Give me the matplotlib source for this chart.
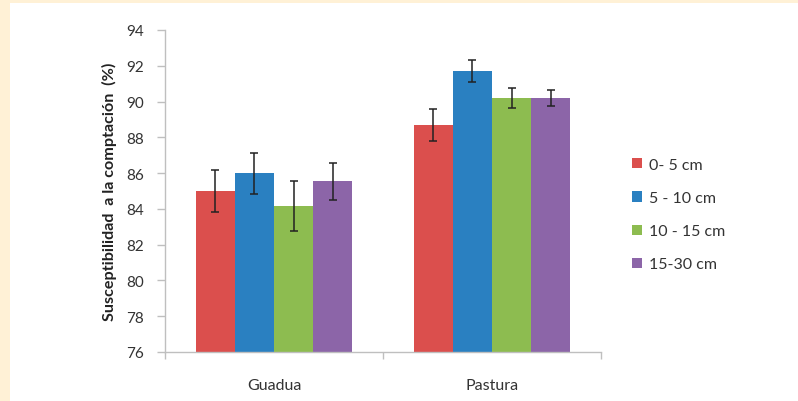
import matplotlib
matplotlib.use("Agg")
import matplotlib.pyplot as plt
import numpy as np
from matplotlib.patches import Rectangle

categories = ["Guadua", "Pastura"]
series = ["0- 5 cm", "5 - 10 cm", "10 - 15 cm", "15-30 cm"]
values = {
    "0- 5 cm":   [85.0, 88.7],
    "5 - 10 cm": [86.0, 91.7],
    "10 - 15 cm": [84.15, 90.2],
    "15-30 cm":  [85.55, 90.2],
}
errors = {
    "0- 5 cm":   [1.15, 0.9],
    "5 - 10 cm": [1.15, 0.63],
    "10 - 15 cm": [1.4, 0.55],
    "15-30 cm":  [1.03, 0.47],
}
colors = ["#DB4F4D", "#2A80C1", "#8DBC50", "#8C65A8"]
yticks = [76, 78, 80, 82, 84, 86, 88, 90, 92, 94]

plt.rcParams['font.family'] = ['Lato', 'DejaVu Sans']

fig = plt.figure(figsize=(7.98, 4.02), dpi=100, facecolor="#FFF1D6")
fig.patches.append(Rectangle((10/798, 0), 1 - 10/798, 1 - 4/402,
                             transform=fig.transFigure, facecolor="white",
                             edgecolor="none", zorder=-10))
ax = fig.add_axes([165/798, 1 - 353/402, (601-165)/798, (353-31)/402])
ax.set_facecolor("none")

n = len(series)
group_w = 0.72
bw = group_w / n
x = np.arange(len(categories))
for i, s in enumerate(series):
    pos = x - group_w/2 + bw*(i + 0.5)
    ax.bar(pos, values[s], bw, bottom=0, color=colors[i], label=s, zorder=2)
    ax.errorbar(pos, values[s], yerr=errors[s], fmt="none", ecolor="#222222",
                elinewidth=1.1, capsize=3.0, capthick=1.1, zorder=3)

ax.set_ylim(76, 94)
ax.set_xlim(-0.5, 1.5)
ax.set_yticks(yticks)
ax.set_yticklabels([str(v) for v in yticks])
ax.set_xticks([-0.5, 0.5, 1.5])
ax.set_xticklabels([])
ax.set_xticks(x, minor=True)
ax.set_xticklabels(categories, minor=True)
ax.tick_params(axis="x", which="minor", length=0, pad=19, labelsize=11.5, labelcolor="#333333")
ax.tick_params(axis="x", which="major", length=5, color="#BFBFBF", width=1)
ax.tick_params(axis="y", length=6, color="#BFBFBF", width=1, pad=9, labelsize=11, labelcolor="#333333")

for sp in ["top", "right"]:
    ax.spines[sp].set_visible(False)
for sp in ["left", "bottom"]:
    ax.spines[sp].set_color("#BFBFBF")
    ax.spines[sp].set_linewidth(1)

ax.set_ylabel("Susceptibilidad  a la comptación  (%)", fontsize=11.6,
              fontweight="bold", color="#222222", labelpad=7)

leg = ax.legend(loc="upper left", bbox_to_anchor=(624/798, 1 - 151/402),
                bbox_transform=fig.transFigure, frameon=False,
                fontsize=11.5, handlelength=0.6, handleheight=0.6,
                handletextpad=0.45, labelspacing=1.2, borderpad=0)
for t in leg.get_texts():
    t.set_color("#333333")

fig.savefig("out.png", dpi=100, facecolor=fig.get_facecolor())
